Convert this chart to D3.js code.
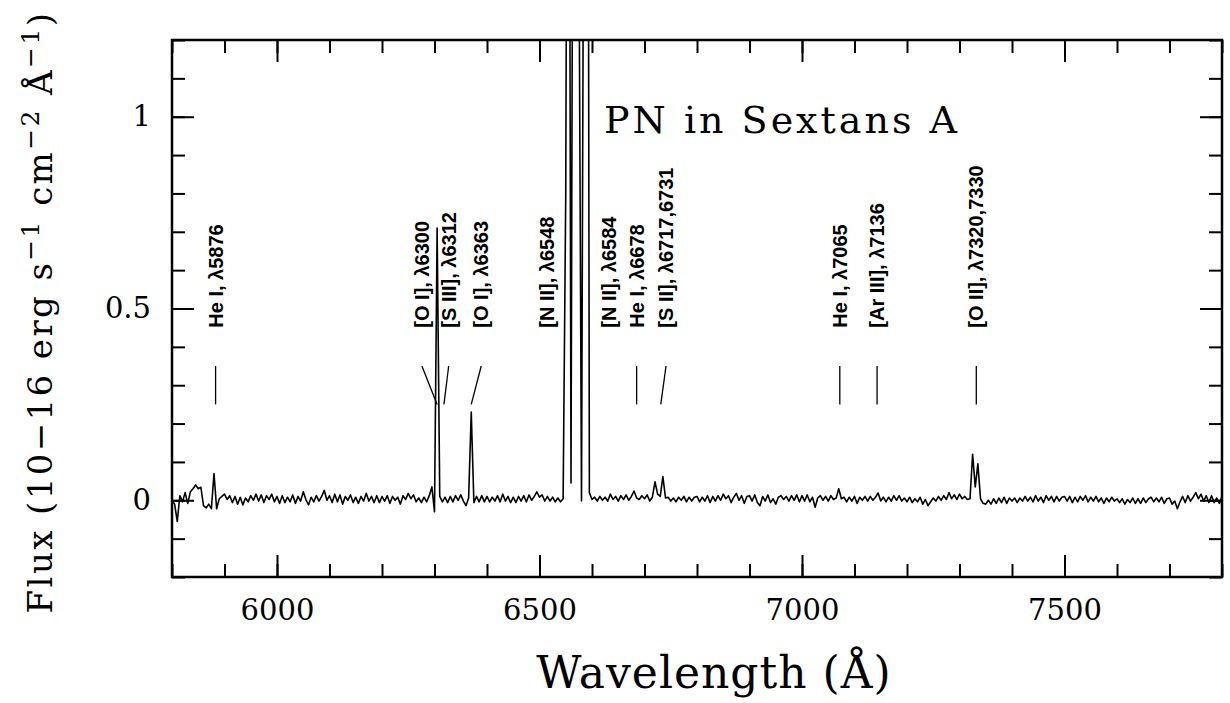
<!DOCTYPE html>
<html>
<head>
<meta charset="utf-8">
<script src="https://cdn.jsdelivr.net/npm/d3@7/dist/d3.min.js"></script>
<style>
body { margin: 0; background: #fff; }
text { white-space: pre; }
</style>
</head>
<body>
<script>
var w = 1230;
var h = 703;
var plotL = 172, plotR = 1222, plotT = 40, plotB = 577;

// spectrum, sampled every 5 A from 5800 A
var fluxStart = 5800;
var fluxStep = 5;
var flux = [
  0.000,-0.010,-0.055,0.012,-0.004,0.020,-0.008,0.022,0.030,0.040,0.030,0.034,-0.014,-0.020,-0.010,-0.022,0.070,-0.022,0.004,0.010,
  0.016,0.002,0.012,-0.006,0.010,-0.010,0.008,-0.012,0.006,-0.004,0.012,0.000,0.016,-0.002,0.014,-0.006,0.012,0.002,0.016,-0.004,
  0.010,-0.008,0.012,-0.006,0.008,-0.004,0.014,-0.008,0.010,-0.002,0.022,0.002,-0.012,0.008,-0.004,0.012,-0.002,0.010,0.026,0.000,
  0.012,-0.006,0.016,-0.004,0.014,-0.010,0.010,0.000,0.014,-0.006,0.008,-0.008,0.010,-0.002,0.018,-0.002,0.010,-0.006,0.012,-0.006,
  0.010,-0.002,0.012,-0.008,0.010,0.000,0.008,-0.010,0.012,0.002,0.018,0.004,0.014,-0.004,0.006,-0.006,0.008,-0.004,0.012,0.035,
  -0.030,0.710,0.010,-0.004,0.008,-0.006,0.010,-0.004,0.012,0.000,0.014,-0.002,-0.014,0.006,0.230,-0.006,0.010,-0.004,0.012,-0.004,
  0.010,-0.004,0.008,-0.002,0.012,-0.004,0.016,-0.002,0.010,-0.006,0.008,-0.006,0.010,-0.002,0.012,-0.004,0.014,0.000,0.010,0.022,
  0.008,0.014,-0.002,0.010,-0.002,0.008,-0.004,0.006,-0.004,0.004,0.800,3.000,0.045,2.500,8.000,1.500,-0.002,2.000,4.000,0.020,
  0.002,0.008,-0.002,0.010,0.000,0.008,-0.002,0.016,0.002,0.010,-0.002,0.012,0.002,0.014,0.000,0.010,0.024,0.006,0.002,0.012,
  0.004,0.014,-0.002,0.008,0.048,0.016,0.010,0.062,0.006,0.008,-0.002,0.006,-0.004,0.008,0.000,0.010,-0.004,0.008,-0.002,0.008,
  0.010,-0.004,0.008,-0.002,0.012,-0.006,0.010,-0.002,0.012,0.000,0.016,0.004,0.012,-0.006,0.008,0.018,0.000,0.012,-0.008,0.010,
  0.012,-0.002,0.014,-0.006,-0.014,0.010,-0.002,0.014,-0.006,0.004,-0.010,0.008,0.012,0.002,0.010,-0.002,0.012,0.000,0.014,-0.004,
  0.012,-0.002,0.014,-0.004,0.008,-0.018,0.006,0.012,0.000,0.010,-0.002,0.012,0.002,0.006,0.030,0.004,0.008,-0.004,0.008,-0.002,
  0.010,-0.008,0.008,0.000,0.010,-0.002,0.010,0.000,0.008,0.019,-0.002,0.008,-0.004,0.008,-0.002,0.012,0.000,0.012,-0.002,0.006,
  -0.004,0.008,-0.006,0.004,-0.004,0.008,-0.010,0.002,-0.014,-0.004,0.006,-0.002,0.010,0.000,0.012,0.002,0.020,0.004,0.014,0.002,
  0.016,0.004,0.010,0.002,0.004,0.120,0.035,0.095,0.004,-0.008,-0.010,0.000,-0.010,0.004,-0.008,0.006,-0.006,0.008,-0.008,0.006,
  -0.002,0.006,-0.006,0.006,-0.002,0.010,-0.002,0.008,-0.004,0.012,-0.002,0.008,-0.006,0.012,0.000,0.010,-0.004,0.010,-0.002,0.008,
  0.010,-0.002,0.010,-0.006,0.008,-0.004,0.010,0.000,0.012,-0.004,0.008,-0.002,0.010,-0.004,0.006,-0.008,0.006,-0.004,0.008,-0.002,
  0.004,-0.006,0.004,-0.010,0.002,-0.006,0.006,-0.008,0.004,-0.008,0.006,-0.006,0.004,0.008,-0.004,0.006,-0.004,0.008,-0.008,0.004,
  0.006,-0.010,-0.002,-0.022,-0.004,0.010,-0.006,0.012,-0.002,0.008,0.020,0.004,0.016,-0.002,0.012,-0.006,0.012,-0.006,0.006,-0.008,
  0.010
];

// line identifications
var lineNames = ["He I, \u03bb5876", "[O I], \u03bb6300", "[S III], \u03bb6312", "[O I], \u03bb6363",
  "[N II], \u03bb6548", "[N II], \u03bb6584", "He I, \u03bb6678", "[S II], \u03bb6717,6731",
  "He I, \u03bb7065", "[Ar III], \u03bb7136", "[O II], \u03bb7320,7330"];
var labelAt = [5883, 6276, 6327, 6389, 6514, 6632, 6685, 6741, 7072, 7143, 7332];
var markAt  = [5883, 6305, 6318, 6370, null, null, 6685, 6731, 7072, 7143, 7332];

var xMajor = [6000, 6500, 7000, 7500];
var xMinor = d3.range(5800, 7801, 100);
var yMajor = [0, 0.5, 1];
var yMinor = d3.range(-2, 13).map(function(k){ return k / 10; });

var x = d3.scaleLinear().domain([5800, 7800]).range([plotL, plotR]);
var y = d3.scaleLinear().domain([-0.2, 1.2]).range([plotB, plotT]);

var svg = d3.select("body")
  .append("svg")
  .attr("width", w)
  .attr("height", h);

svg.append("defs").append("clipPath")
  .attr("id", "plot")
  .append("rect")
  .attr("x", plotL).attr("y", plotT)
  .attr("width", plotR - plotL).attr("height", plotB - plotT);

// spectrum
var line = d3.line()
  .x(function(d, i){ return x(fluxStart + i * fluxStep); })
  .y(function(d){ return y(d); });

svg.append("path")
  .datum(flux)
  .attr("clip-path", "url(#plot)")
  .attr("d", line)
  .attr("fill", "none")
  .attr("stroke", "#000")
  .attr("stroke-width", 1.6)
  .attr("stroke-linejoin", "round");

// axes, ticks on all four sides pointing inwards
function addAxis(axis, tr, labels) {
  var g = svg.append("g")
    .attr("transform", tr)
    .call(axis);
  g.select(".domain").remove();
  g.selectAll("line").attr("stroke", "#000").attr("stroke-width", 2);
  if (!labels) {
    g.selectAll("text").remove();
  } else {
    g.attr("font-family", "DejaVu Serif").attr("font-size", 29);
    g.selectAll("text").attr("fill", "#000");
  }
}
var fmt = function(d){ return String(d); };

addAxis(d3.axisBottom(x).tickValues(xMinor).tickSizeInner(-13).tickSizeOuter(0), "translate(0," + plotB + ")", false);
addAxis(d3.axisBottom(x).tickValues(xMajor).tickSizeInner(-22).tickSizeOuter(0).tickPadding(22).tickFormat(fmt), "translate(0," + plotB + ")", true);
addAxis(d3.axisTop(x).tickValues(xMinor).tickSizeInner(-13).tickSizeOuter(0), "translate(0," + plotT + ")", false);
addAxis(d3.axisTop(x).tickValues(xMajor).tickSizeInner(-22).tickSizeOuter(0), "translate(0," + plotT + ")", false);
addAxis(d3.axisLeft(y).tickValues(yMinor).tickSizeInner(-13).tickSizeOuter(0), "translate(" + plotL + ",0)", false);
addAxis(d3.axisLeft(y).tickValues(yMajor).tickSizeInner(-22).tickSizeOuter(0).tickPadding(21).tickFormat(fmt), "translate(" + plotL + ",0)", true);
addAxis(d3.axisRight(y).tickValues(yMinor).tickSizeInner(-13).tickSizeOuter(0), "translate(" + plotR + ",0)", false);
addAxis(d3.axisRight(y).tickValues(yMajor).tickSizeInner(-22).tickSizeOuter(0), "translate(" + plotR + ",0)", false);

svg.append("rect")
  .attr("x", plotL).attr("y", plotT)
  .attr("width", plotR - plotL).attr("height", plotB - plotT)
  .attr("fill", "none")
  .attr("stroke", "#000")
  .attr("stroke-width", 2.5);

// line markers
var ids = lineNames.map(function(d, i){
  return {name: d, at: labelAt[i], mark: markAt[i]};
});

svg.selectAll("line.mark")
  .data(ids.filter(function(d){ return d.mark !== null; }))
  .enter()
  .append("line")
  .attr("class", "mark")
  .attr("x1", function(d){ return x(d.at); })
  .attr("y1", y(0.35))
  .attr("x2", function(d){ return x(d.mark); })
  .attr("y2", y(0.25))
  .attr("stroke", "#000")
  .attr("stroke-width", 1.3);

svg.selectAll("text.id")
  .data(ids)
  .enter()
  .append("text")
  .attr("class", "id")
  .attr("transform", function(d){
    return "translate(" + (x(d.at) + 7) + "," + y(0.45) + ") rotate(-90)";
  })
  .attr("font-family", "Liberation Sans")
  .attr("font-weight", "bold")
  .attr("font-size", 20)
  .text(function(d){ return d.name; });

// titles
svg.append("text")
  .attr("x", 604)
  .attr("y", 133)
  .attr("font-family", "DejaVu Serif")
  .attr("font-size", 38)
  .attr("letter-spacing", 3)
  .text("PN in Sextans A");

svg.append("text")
  .attr("x", 714)
  .attr("y", 688)
  .attr("text-anchor", "middle")
  .attr("font-family", "DejaVu Serif")
  .attr("font-size", 44)
  .attr("letter-spacing", 1)
  .text("Wavelength (\u00c5)");

var ytitle = svg.append("text")
  .attr("transform", "translate(52,312) rotate(-90)")
  .attr("text-anchor", "middle")
  .attr("font-family", "DejaVu Serif")
  .attr("font-size", 34)
  .attr("letter-spacing", 2.4);

var parts = [["Flux (10\u221216 erg s", 0], ["\u22121", 1], [" cm", 0], ["\u22122", 1],
  [" \u00c5", 0], ["\u22121", 1], [")", 0]];
parts.forEach(function(p, i){
  var t = ytitle.append("tspan").text(p[0]);
  if (p[1]) {
    t.attr("font-size", 25).attr("dy", -13);
  } else if (i > 0) {
    t.attr("dy", 13);
  }
});
</script>
</body>
</html>
